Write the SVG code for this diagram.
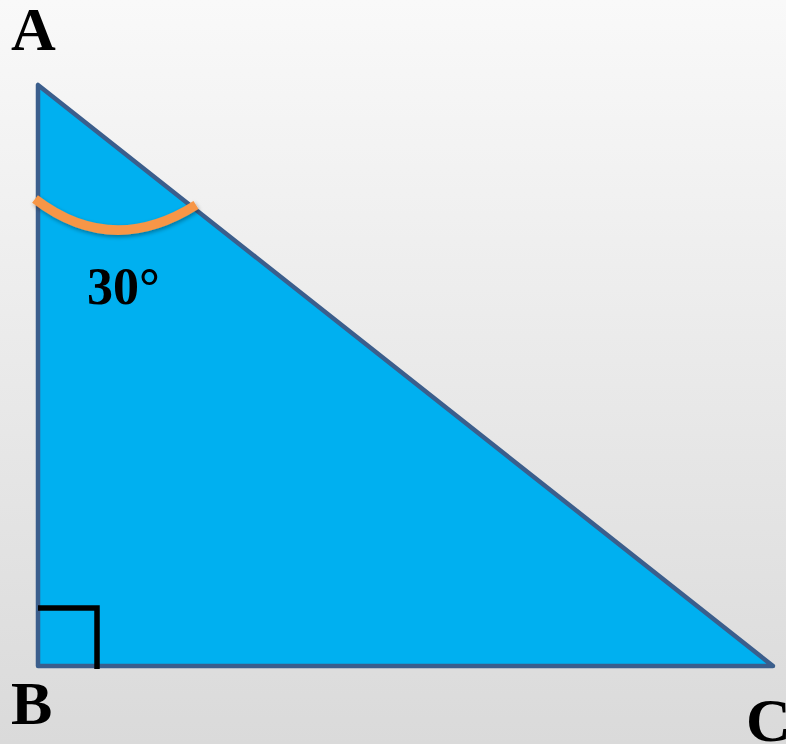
<svg xmlns="http://www.w3.org/2000/svg" width="786" height="744" viewBox="0 0 786 744">
<defs>
<linearGradient id="bg" x1="0" y1="0" x2="0" y2="1">
<stop offset="0" stop-color="#F9F9F9"/>
<stop offset="1" stop-color="#DADADA"/>
</linearGradient>
<filter id="sh" x="-20%" y="-50%" width="140%" height="200%">
<feGaussianBlur in="SourceAlpha" stdDeviation="2"/>
<feOffset dx="1" dy="2"/>
<feComponentTransfer><feFuncA type="linear" slope="0.35"/></feComponentTransfer>
<feMerge><feMergeNode/><feMergeNode in="SourceGraphic"/></feMerge>
</filter>
</defs>
<style>
.lbl{font-family:"Liberation Serif","Times New Roman",serif;font-weight:bold;fill:#000}
</style>
<rect width="786" height="744" fill="url(#bg)"/>
<g id="triangle">
<polygon points="38,85 38,666 773,666" fill="#00B0F0" stroke="#3B5E8C" stroke-width="4.5" stroke-linejoin="round"/>
</g>
<g id="angle-arc">
<path d="M35,199 Q112,258 196,205" fill="none" stroke="#F79646" stroke-width="9.5" filter="url(#sh)"/>
</g>
<g id="right-angle">
<path d="M38,608 H97 V669" fill="none" stroke="#000" stroke-width="5.5"/>
</g>
<g id="labels">
<text class="lbl" x="11" y="50" font-size="62">A</text>
<text class="lbl" x="11" y="724" font-size="62">B</text>
<text class="lbl" x="746" y="741" font-size="62">C</text>
<text class="lbl" x="87" y="304" font-size="52">30°</text>
</g>
</svg>
